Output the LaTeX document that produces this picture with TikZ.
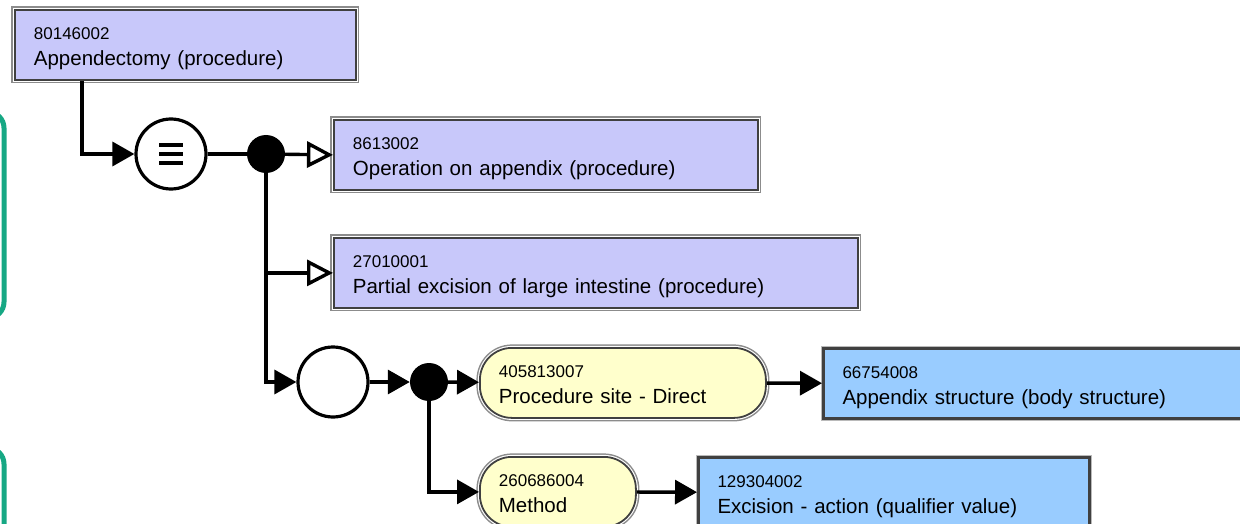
\documentclass[tikz,border=0pt]{standalone}
\usepackage{fontspec}
\setmainfont{Liberation Sans}
\usepackage{tikz}
\usetikzlibrary{arrows.meta,positioning}
\definecolor{lavender}{RGB}{200,200,250}
\definecolor{paleyellow}{RGB}{255,255,204}
\definecolor{skyblue}{RGB}{153,204,255}
\definecolor{framegreen}{RGB}{22,168,132}
\colorlet{edge}{black!75}
\colorlet{rim}{black!45}
\newcommand{\conceptid}[1]{{\fontsize{17}{26}\selectfont #1}}

\begin{document}
\begin{tikzpicture}[
  x=1pt, y=-1pt,
  >={Triangle[length=22pt,width=24pt]},
  link/.style = {line width=3.4pt},
  isa/.style = {line width=3.4pt, -{Triangle[open,length=26pt,width=26pt]}},
  boxbase/.style = {
    anchor=north west, inner xsep=19pt, inner ysep=0pt,
    text height=30pt, text depth=40pt, align=left,
    font=\fontsize{20.5}{26}\selectfont
  },
  concept/.style = {boxbase, fill=lavender, draw=edge, line width=1.8pt,
    preaction={draw=rim,line width=7pt}, preaction={draw=white,line width=4pt}},
  attr/.style = {concept, fill=paleyellow, rounded corners=32pt},
  valuebox/.style = {boxbase, fill=skyblue, draw=edge, line width=3pt,
    preaction={draw=rim!60,line width=5.5pt}},
  opnode/.style = {circle, draw, fill=white, line width=3.2pt, minimum size=70pt, inner sep=0pt},
  joint/.style = {circle, fill=black, minimum size=38pt, inner sep=0pt},
  groupframe/.style = {framegreen, line width=5pt, rounded corners=16pt}
  ]
  \useasboundingbox (0,0) rectangle (1240,524);
  \clip (0,0) rectangle (1240,524);
  % Frames at the left
  \draw[groupframe] (-60,112) rectangle (4,318);
  \draw[groupframe] (-60,448) rectangle (4,700);
  % Concepts
  \node[concept, text width=303pt] (appendectomy) at (14,9)
    {\conceptid{80146002}\\Appendectomy (procedure)};
  \node[concept, text width=386pt] (operation) at (333,119)
    {\conceptid{8613002}\\Operation on appendix (procedure)};
  \node[concept, text width=486pt] (partial) at (333,237)
    {\conceptid{27010001}\\Partial excision of large intestine (procedure)};
  % Attributes and values
  \node[attr, text width=248pt] (site) at (479,347)
    {\conceptid{405813007}\\Procedure site - Direct};
  \node[valuebox, text width=390pt] (structure) at (822,347)
    {\conceptid{66754008}\\Appendix structure (body structure)};
  \node[attr, text width=118pt] (method) at (479,456)
    {\conceptid{260686004}\\Method};
  \node[valuebox, text width=353pt] (excision) at (697,456)
    {\conceptid{129304002}\\Excision - action (qualifier value)};
  % Operators
  \node[opnode, path picture={
    \foreach \dy in {-9,0,9}
      \draw[line width=3.8pt] ([xshift=-12pt,yshift=\dy pt]path picture bounding box.center) -- ++(24pt,0pt);
    }] (equiv) at (171,154) {};
  \node[joint] (split) at (266,154) {};
  \node[opnode] (group) at (333,382) {};
  \node[joint] (attrs) at (429,382) {};
  % Connectors
  \draw[link,->] (appendectomy.south west) ++(68,0) |- (equiv);
  \draw[link] (equiv) -- (split);
  \draw[isa] (split) -- (operation.west);
  \draw[isa] (split) |- (partial.west);
  \draw[link,->] (split) |- (group);
  \draw[link,->] (group) -- (attrs);
  \draw[link,->] (attrs) -- (site);
  \draw[link,->] (site) -- (structure);
  \draw[link,->] (attrs) |- (method);
  \draw[link,->] (method) -- (excision);
\end{tikzpicture}
\end{document}
